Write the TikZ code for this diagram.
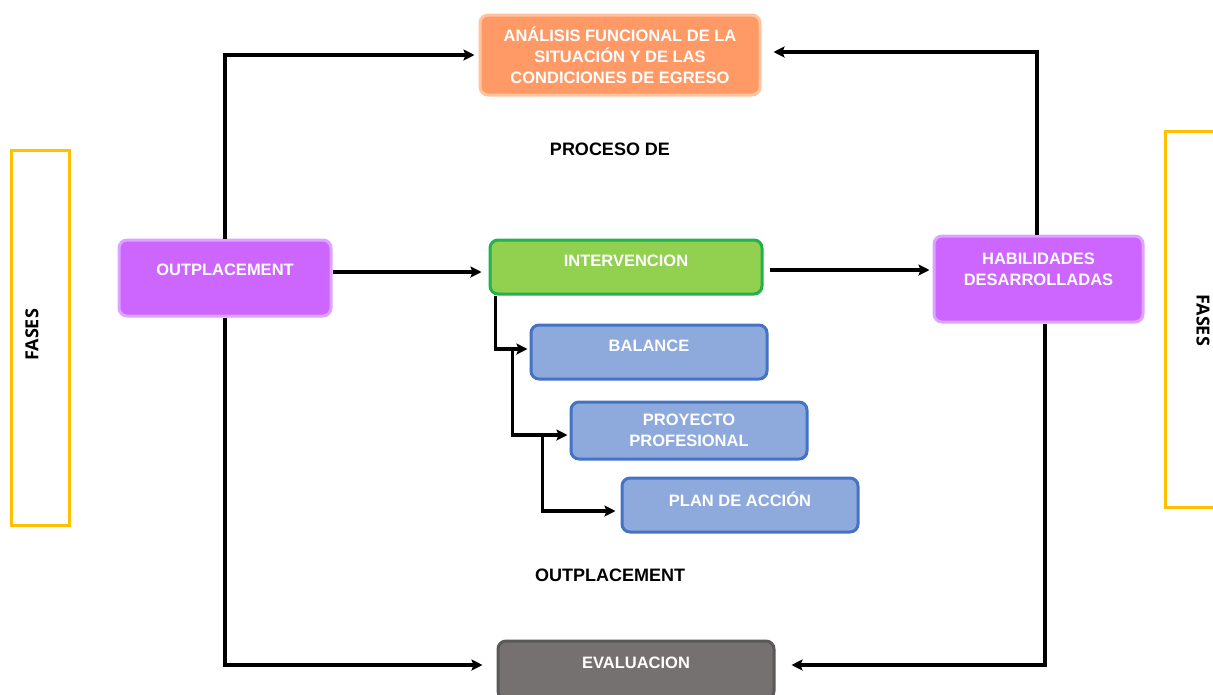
\documentclass[tikz,border=0pt]{standalone}
\usepackage{fontspec}
\setmainfont{Liberation Sans}
\newfontfamily\fasesfont{Open Sans}
\usetikzlibrary{arrows.meta,calc}
\definecolor{orF}{HTML}{FF9966}
\definecolor{orB}{HTML}{FFC49E}
\definecolor{puF}{HTML}{CC66FF}
\definecolor{puB}{HTML}{DDA3FF}
\definecolor{grF}{HTML}{92D050}
\definecolor{grB}{HTML}{22B14C}
\definecolor{blF}{HTML}{8EA9DB}
\definecolor{blB}{HTML}{4472C4}
\definecolor{gyF}{HTML}{767171}
\definecolor{gyB}{HTML}{595959}
\definecolor{yel}{HTML}{FFC000}
\newcommand{\lift}[2]{\raisebox{#1}[\height][\depth]{#2}}
\begin{document}
\begin{tikzpicture}[x=1pt,y=-1pt,
  box/.style={rounded corners=8pt, line width=3pt, inner sep=0pt, align=center,
    text=white, font=\fontsize{16.5}{21}\selectfont\bfseries},
  plain/.style={font=\fontsize{18}{21}\selectfont\bfseries, text=black, inner sep=0pt},
  fasebox/.style={draw=yel, line width=3pt, inner sep=0pt},
  fasetext/.style={font=\fasesfont\fontsize{18}{20}\selectfont\bfseries, inner sep=0pt},
  arr/.style={line width=3.4pt, -{Stealth[length=11pt,width=11pt,inset=2pt]}}
]
\useasboundingbox (0,0) rectangle (1213,694);

% side boxes
\node[fasebox, minimum width=58, minimum height=375] (fl) at (40,337.5) {};
\node[fasetext, rotate=90] (flt) at (32,335) {FASES};
\node[fasebox, minimum width=60, minimum height=376] (fr) at (1195,319) {};
\node[fasetext, rotate=-90] (frt) at (1203,320) {FASES};

% main boxes
\node[box, fill=orF, draw=orB, minimum width=280, minimum height=80] (ana) at (620,55)
  {ANÁLISIS FUNCIONAL DE LA\\SITUACIÓN Y DE LAS\\CONDICIONES DE EGRESO};
\node[box, fill=puF, draw=puB, minimum width=212, minimum height=76] (out) at (225,278)
  {\lift{8pt}{OUTPLACEMENT}};
\node[box, fill=grF, draw=grB, minimum width=272, minimum height=54] (int) at (626,267)
  {\lift{6pt}{INTERVENCION}};
\node[box, fill=puF, draw=puB, minimum width=209, minimum height=86] (hab) at (1038.5,279)
  {\lift{8pt}{\begin{tabular}{@{}c@{}}HABILIDADES\\DESARROLLADAS\end{tabular}}};
\node[box, fill=blF, draw=blB, minimum width=236, minimum height=54] (bal) at (649,352)
  {\lift{6pt}{BALANCE}};
\node[box, fill=blF, draw=blB, minimum width=236, minimum height=57] (proj) at (689,430.5)
  {\lift{-1pt}{\begin{tabular}{@{}c@{}}PROYECTO\\PROFESIONAL\end{tabular}}};
\node[box, fill=blF, draw=blB, minimum width=236, minimum height=54] (plan) at (740,505)
  {\lift{6pt}{PLAN DE ACCIÓN}};
\node[box, fill=gyF, draw=gyB, minimum width=276, minimum height=58] (eva) at (636,670)
  {\lift{7pt}{EVALUACION}};

% free texts
\node[plain] (proc) at (610,149) {PROCESO DE};
\node[plain] (outp) at (610,575) {OUTPLACEMENT};

% connectors
\draw[arr, shorten >=4pt] (out.north) |- (ana.west);
\draw[arr, shorten >=12pt] ([xshift=-1.5pt]hab.north) |- ([yshift=3pt]ana.east);
\draw[arr, shorten >=7pt] ([yshift=-5pt]out.east |- int.west) -- ([yshift=-5pt]int.west);
\draw[arr, shorten <=6pt, shorten >=3pt] ([yshift=-3pt]int.east) -- ([yshift=-3pt]int.east -| hab.west);
\draw[arr, shorten >=14pt] (out.south) |- ([yshift=5pt]eva.west);
\draw[arr, shorten >=16pt] ([xshift=6.5pt]hab.south) |- ([yshift=5pt]eva.east);

\coordinate (j1) at ([xshift=-17pt,yshift=3pt]bal.west);
\coordinate (j2) at ([xshift=-27pt,yshift=-4.5pt]proj.west);
\draw[arr, shorten >=2pt] ([xshift=7pt]int.south west) |- ([yshift=3pt]bal.west);
\draw[arr, shorten >=2pt] (j1) |- ([yshift=-4.5pt]proj.west);
\draw[arr, shorten >=5pt] (j2) |- ([yshift=-6pt]plan.west);
\end{tikzpicture}
\end{document}
